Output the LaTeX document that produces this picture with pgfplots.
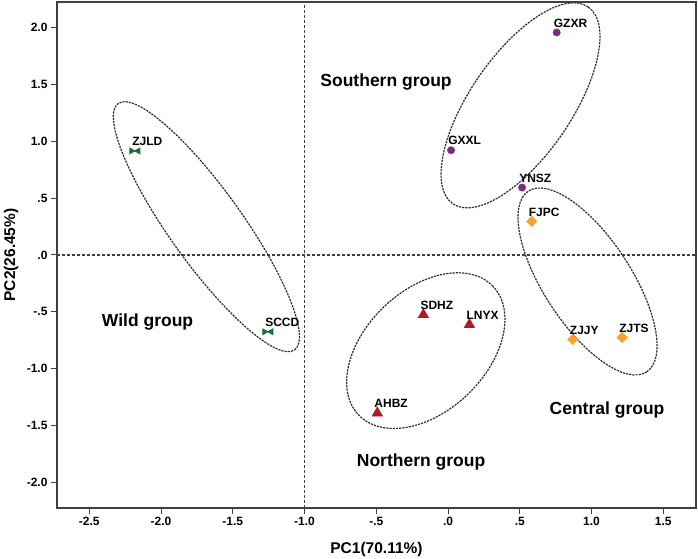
\documentclass[border=0pt]{standalone}
\usepackage{fontspec}
\setmainfont{Liberation Sans}
\usepackage{pgfplots}
\pgfplotsset{compat=1.18}
\definecolor{axgray}{HTML}{404040}
\definecolor{ellgray}{HTML}{2E2E2E}
\definecolor{cpurple}{HTML}{7E2A84}
\definecolor{corange}{HTML}{F7A12E}
\definecolor{cred}{HTML}{B01C22}
\definecolor{cgreen}{HTML}{1E6B3C}
\pgfdeclareplotmark{bowtie}{%
  \pgfpathmoveto{\pgfqpoint{-\pgfplotmarksize}{0.55\pgfplotmarksize}}%
  \pgfpathlineto{\pgfqpoint{\pgfplotmarksize}{-0.55\pgfplotmarksize}}%
  \pgfpathlineto{\pgfqpoint{\pgfplotmarksize}{0.55\pgfplotmarksize}}%
  \pgfpathlineto{\pgfqpoint{-\pgfplotmarksize}{-0.55\pgfplotmarksize}}%
  \pgfpathclose
  \pgfusepathqfillstroke}
\begin{document}
\begin{tikzpicture}
\begin{axis}[
  width=639bp, height=506bp, scale only axis,
  xmin=-2.725, xmax=1.728, ymin=-2.225, ymax=2.225,
  axis line style={axgray, line width=1.2bp},
  xtick={-2.5,-2.0,-1.5,-1.0,-0.5,0,0.5,1.0,1.5},
  xticklabels={-2.5,-2.0,-1.5,-1.0,-.5,.0,.5,1.0,1.5},
  ytick={-2.0,-1.5,-1.0,-0.5,0,0.5,1.0,1.5,2.0},
  yticklabels={-2.0,-1.5,-1.0,-.5,.0,.5,1.0,1.5,2.0},
  tick align=outside, xtick pos=bottom, ytick pos=left,
  major tick length=6bp,
  tick style={axgray, line width=1bp},
  ticklabel style={font=\fontsize{12bp}{14bp}\selectfont\bfseries, text=black},
  clip=false,
  nodes near coords style={anchor=south west, xshift=-3bp, yshift=5bp, inner sep=0pt,
    font=\fontsize{12bp}{14bp}\selectfont\bfseries, text=black},
  every axis plot/.append style={only marks},
]
\coordinate (SW) at (rel axis cs:0,0);
\coordinate (NE) at (rel axis cs:1,1);
\coordinate (S) at (rel axis cs:0.5,0);
\coordinate (W) at (rel axis cs:0,0.5);
% reference lines
\addplot[no marks, sharp plot, axgray, line width=1.1bp, dash pattern=on 3bp off 2bp] coordinates {(-1,-2.225) (-1,2.225)};
\addplot[no marks, sharp plot, axgray, line width=1.1bp, dash pattern=on 3bp off 2bp] coordinates {(-2.725,0) (1.728,0)};
% ellipses
\draw[ellgray, line width=1.2bp, dash pattern=on 2.2bp off 1bp, rotate around={55.5:(axis cs:0.505,1.316)}] (axis cs:0.505,1.316) ellipse [x radius=119.4bp, y radius=50.6bp];
\draw[ellgray, line width=1.2bp, dash pattern=on 2.2bp off 1bp, rotate around={-56.8:(axis cs:0.972,-0.233)}] (axis cs:0.972,-0.233) ellipse [x radius=108bp, y radius=43.7bp];
\draw[ellgray, line width=1.2bp, dash pattern=on 2.2bp off 1bp, rotate around={43.8:(axis cs:-0.155,-0.841)}] (axis cs:-0.155,-0.841) ellipse [x radius=93bp, y radius=60.6bp];
\draw[ellgray, line width=1.2bp, dash pattern=on 2.2bp off 1bp, rotate around={-54.4:(axis cs:-1.684,0.249)}] (axis cs:-1.684,0.249) ellipse [x radius=151.5bp, y radius=36.5bp];
% Southern
\addplot[mark=*, mark size=3.7bp, color=cpurple, nodes near coords, point meta=explicit symbolic] table[meta=label] {
x y label
0.757 1.957 GZXR
0.021 0.921 GXXL
0.516 0.593 YNSZ
};
% Central
\addplot[mark=square*, mark size=3.7bp, mark options={rotate=45}, color=corange, nodes near coords, point meta=explicit symbolic] table[meta=label] {
x y label
0.583 0.296 FJPC
0.869 -0.742 ZJJY
1.213 -0.725 ZJTS
};
% Northern
\addplot[mark=triangle*, mark size=6.2bp, color=cred, nodes near coords, point meta=explicit symbolic] table[meta=label] {
x y label
-0.172 -0.525 SDHZ
0.149 -0.613 LNYX
-0.493 -1.390 AHBZ
};
% Wild
\addplot[mark=bowtie, mark size=5bp, mark options={line width=1bp}, color=cgreen, nodes near coords, point meta=explicit symbolic] table[meta=label] {
x y label
-2.183 0.915 ZJLD
-1.256 -0.675 SCCD
};
% group labels
\node[font=\fontsize{17.5bp}{20bp}\selectfont\bfseries] at (axis cs:-0.432,1.523) {Southern group};
\node[font=\fontsize{17.5bp}{20bp}\selectfont\bfseries] at (axis cs:-2.094,-0.59) {Wild group};
\node[font=\fontsize{17.5bp}{20bp}\selectfont\bfseries] at (axis cs:-0.188,-1.82) {Northern group};
\node[font=\fontsize{17.5bp}{20bp}\selectfont\bfseries] at (axis cs:1.108,-1.364) {Central group};
\end{axis}
\node[font=\fontsize{15.5bp}{18bp}\selectfont\bfseries] at ([yshift=-41bp]S) {PC1(70.11\%)};
\node[rotate=90, font=\fontsize{15.5bp}{18bp}\selectfont\bfseries] at ([xshift=-46bp]W) {PC2(26.45\%)};
\pgfresetboundingbox
\path ([shift={(-57bp,-51bp)}]SW) rectangle ([shift={(2bp,2bp)}]NE);
\end{tikzpicture}
\end{document}
